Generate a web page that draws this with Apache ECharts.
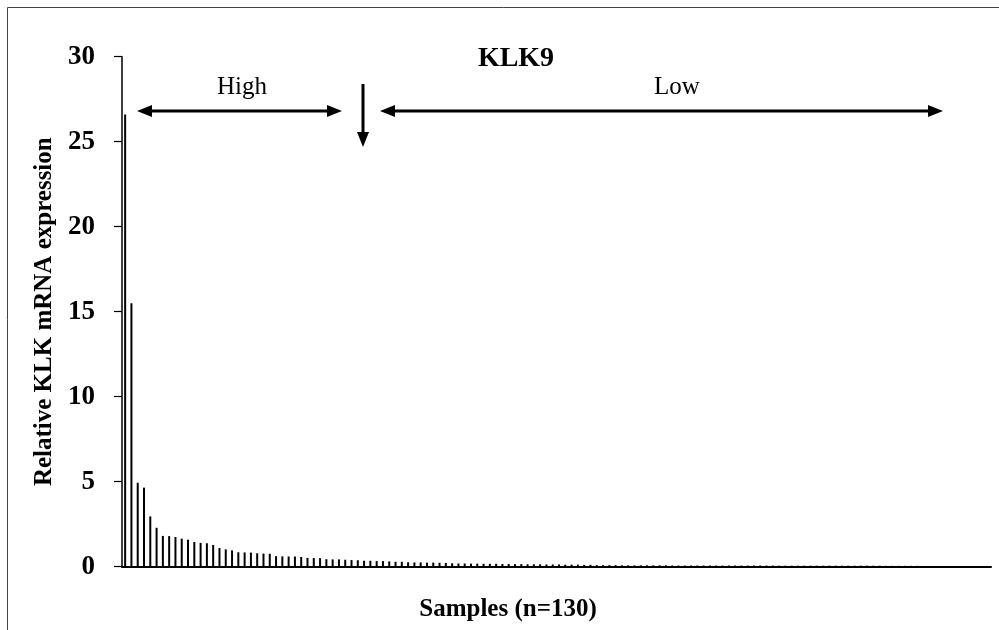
<!DOCTYPE html>
<html>
<head>
<meta charset="utf-8">
<script src="https://cdn.jsdelivr.net/npm/echarts@6/dist/echarts.min.js"></script>
<style>html,body{margin:0;padding:0;background:#fff;}#c{width:999px;height:630px;}</style>
</head>
<body>
<div id="c"></div>
<script>
// Relative KLK9 mRNA expression per sample, sorted descending (130 samples)
const expressionTop = [26.6, 15.5, 4.94, 4.65, 2.96, 2.29, 1.81, 1.80, 1.75, 1.65,
  1.59, 1.45, 1.40, 1.38, 1.28, 1.10, 1.02, 0.96, 0.85, 0.84,
  0.83, 0.79, 0.77, 0.76, 0.62, 0.61, 0.60, 0.60, 0.57, 0.52,
  0.51, 0.50, 0.44, 0.43, 0.43, 0.41, 0.39, 0.38, 0.35, 0.35,
  0.33, 0.33, 0.31, 0.29, 0.29, 0.26, 0.25, 0.25, 0.24, 0.24];
const expressionMid = [0.23, 0.22, 0.20, 0.19, 0.19, 0.18, 0.18, 0.17, 0.17, 0.17,
  0.16, 0.16, 0.15, 0.15, 0.14, 0.14, 0.14, 0.13, 0.13, 0.13,
  0.12, 0.12, 0.12, 0.11, 0.11, 0.09, 0.09, 0.09, 0.09, 0.08,
  0.08, 0.08, 0.08, 0.08, 0.08, 0.08, 0.08, 0.07, 0.07, 0.07];
const expressionTail = [0.07, 0.07, 0.07, 0.07, 0.07, 0.07, 0.07, 0.07, 0.07, 0.07,
  0.07, 0.07, 0.07, 0.07, 0.06, 0.06, 0.06, 0.06, 0.06, 0.06,
  0.06, 0.06, 0.06, 0.06, 0.06, 0.06, 0.06, 0.06, 0.06, 0.06,
  0.06, 0.05, 0.05, 0.05, 0.05, 0.05, 0.05, 0.02, 0.01, 0.01];
const expression = expressionTop.concat(expressionMid, expressionTail);
const yTicks = [0, 5, 10, 15, 20, 25, 30];
const chartTitle = 'KLK9';
const xName = 'Samples (n=130)';
const yName = 'Relative KLK mRNA expression';
const groupLabels = ['High', 'Low'];

const serif = '"Liberation Serif", "Times New Roman", serif';
const chart = echarts.init(document.getElementById('c'), null, {renderer: 'canvas'});

function arrowHead(tipX, tipY, dir) { // dir: 'left','right','down'
  const L = 15, W = 6;
  let pts;
  if (dir === 'left') pts = [[tipX, tipY], [tipX + L, tipY - W], [tipX + L, tipY + W]];
  else if (dir === 'right') pts = [[tipX, tipY], [tipX - L, tipY - W], [tipX - L, tipY + W]];
  else pts = [[tipX, tipY], [tipX - W, tipY - L], [tipX + W, tipY - L]];
  return {type: 'polygon', shape: {points: pts}, style: {fill: '#000'}, silent: true};
}
function hline(x1, x2, y) {
  return {type: 'line', shape: {x1: x1, y1: y, x2: x2, y2: y}, style: {stroke: '#000', lineWidth: 3}, silent: true};
}

chart.setOption({
  backgroundColor: '#fff',
  animation: false,
  grid: {left: 122, right: 8, top: 56.7, bottom: 63.3, containLabel: false},
  xAxis: {
    type: 'value', min: 0.5, max: 138.7,
    axisLine: {show: true, lineStyle: {color: '#000', width: 2}},
    axisTick: {show: false}, axisLabel: {show: false}, splitLine: {show: false}
  },
  yAxis: {
    type: 'value', min: yTicks[0], max: yTicks[yTicks.length - 1], interval: 5,
    name: yName, nameLocation: 'middle', nameGap: 65,
    nameTextStyle: {fontFamily: serif, fontWeight: 'bold', fontSize: 25, color: '#000'},
    axisLine: {show: true, lineStyle: {color: '#000', width: 1.5}},
    axisTick: {show: true, length: 8, inside: false, lineStyle: {color: '#000', width: 1.2}},
    axisLabel: {fontFamily: serif, fontWeight: 'bold', fontSize: 27, color: '#000', margin: 27},
    splitLine: {show: false}
  },
  series: [{
    type: 'bar',
    data: expression.map((v, i) => [i + 1, v]),
    barWidth: 2,
    itemStyle: {color: '#000'},
    silent: true
  }],
  graphic: [
    {type: 'rect', shape: {x: 7.5, y: 7.5, width: 1200, height: 1200}, style: {fill: 'none', stroke: '#444', lineWidth: 1}, silent: true, z: -1},
    {type: 'text', x: 516, y: 59, style: {text: chartTitle, font: 'bold 28px ' + serif, fill: '#000', textAlign: 'center', textVerticalAlign: 'middle'}},
    {type: 'text', x: 508, y: 610, style: {text: xName, font: 'bold 25px ' + serif, fill: '#000', textAlign: 'center', textVerticalAlign: 'middle'}},
    {type: 'text', x: 242, y: 87, style: {text: groupLabels[0], font: '25px ' + serif, fill: '#000', textAlign: 'center', textVerticalAlign: 'middle'}},
    {type: 'text', x: 677, y: 87, style: {text: groupLabels[1], font: '25px ' + serif, fill: '#000', textAlign: 'center', textVerticalAlign: 'middle'}},
    hline(146, 333, 111), arrowHead(137, 111, 'left'), arrowHead(342, 111, 'right'),
    {type: 'line', shape: {x1: 363, y1: 84, x2: 363, y2: 138}, style: {stroke: '#000', lineWidth: 3}, silent: true},
    arrowHead(363, 147, 'down'),
    hline(389, 934, 111), arrowHead(380, 111, 'left'), arrowHead(943, 111, 'right')
  ]
});
</script>
</body>
</html>
